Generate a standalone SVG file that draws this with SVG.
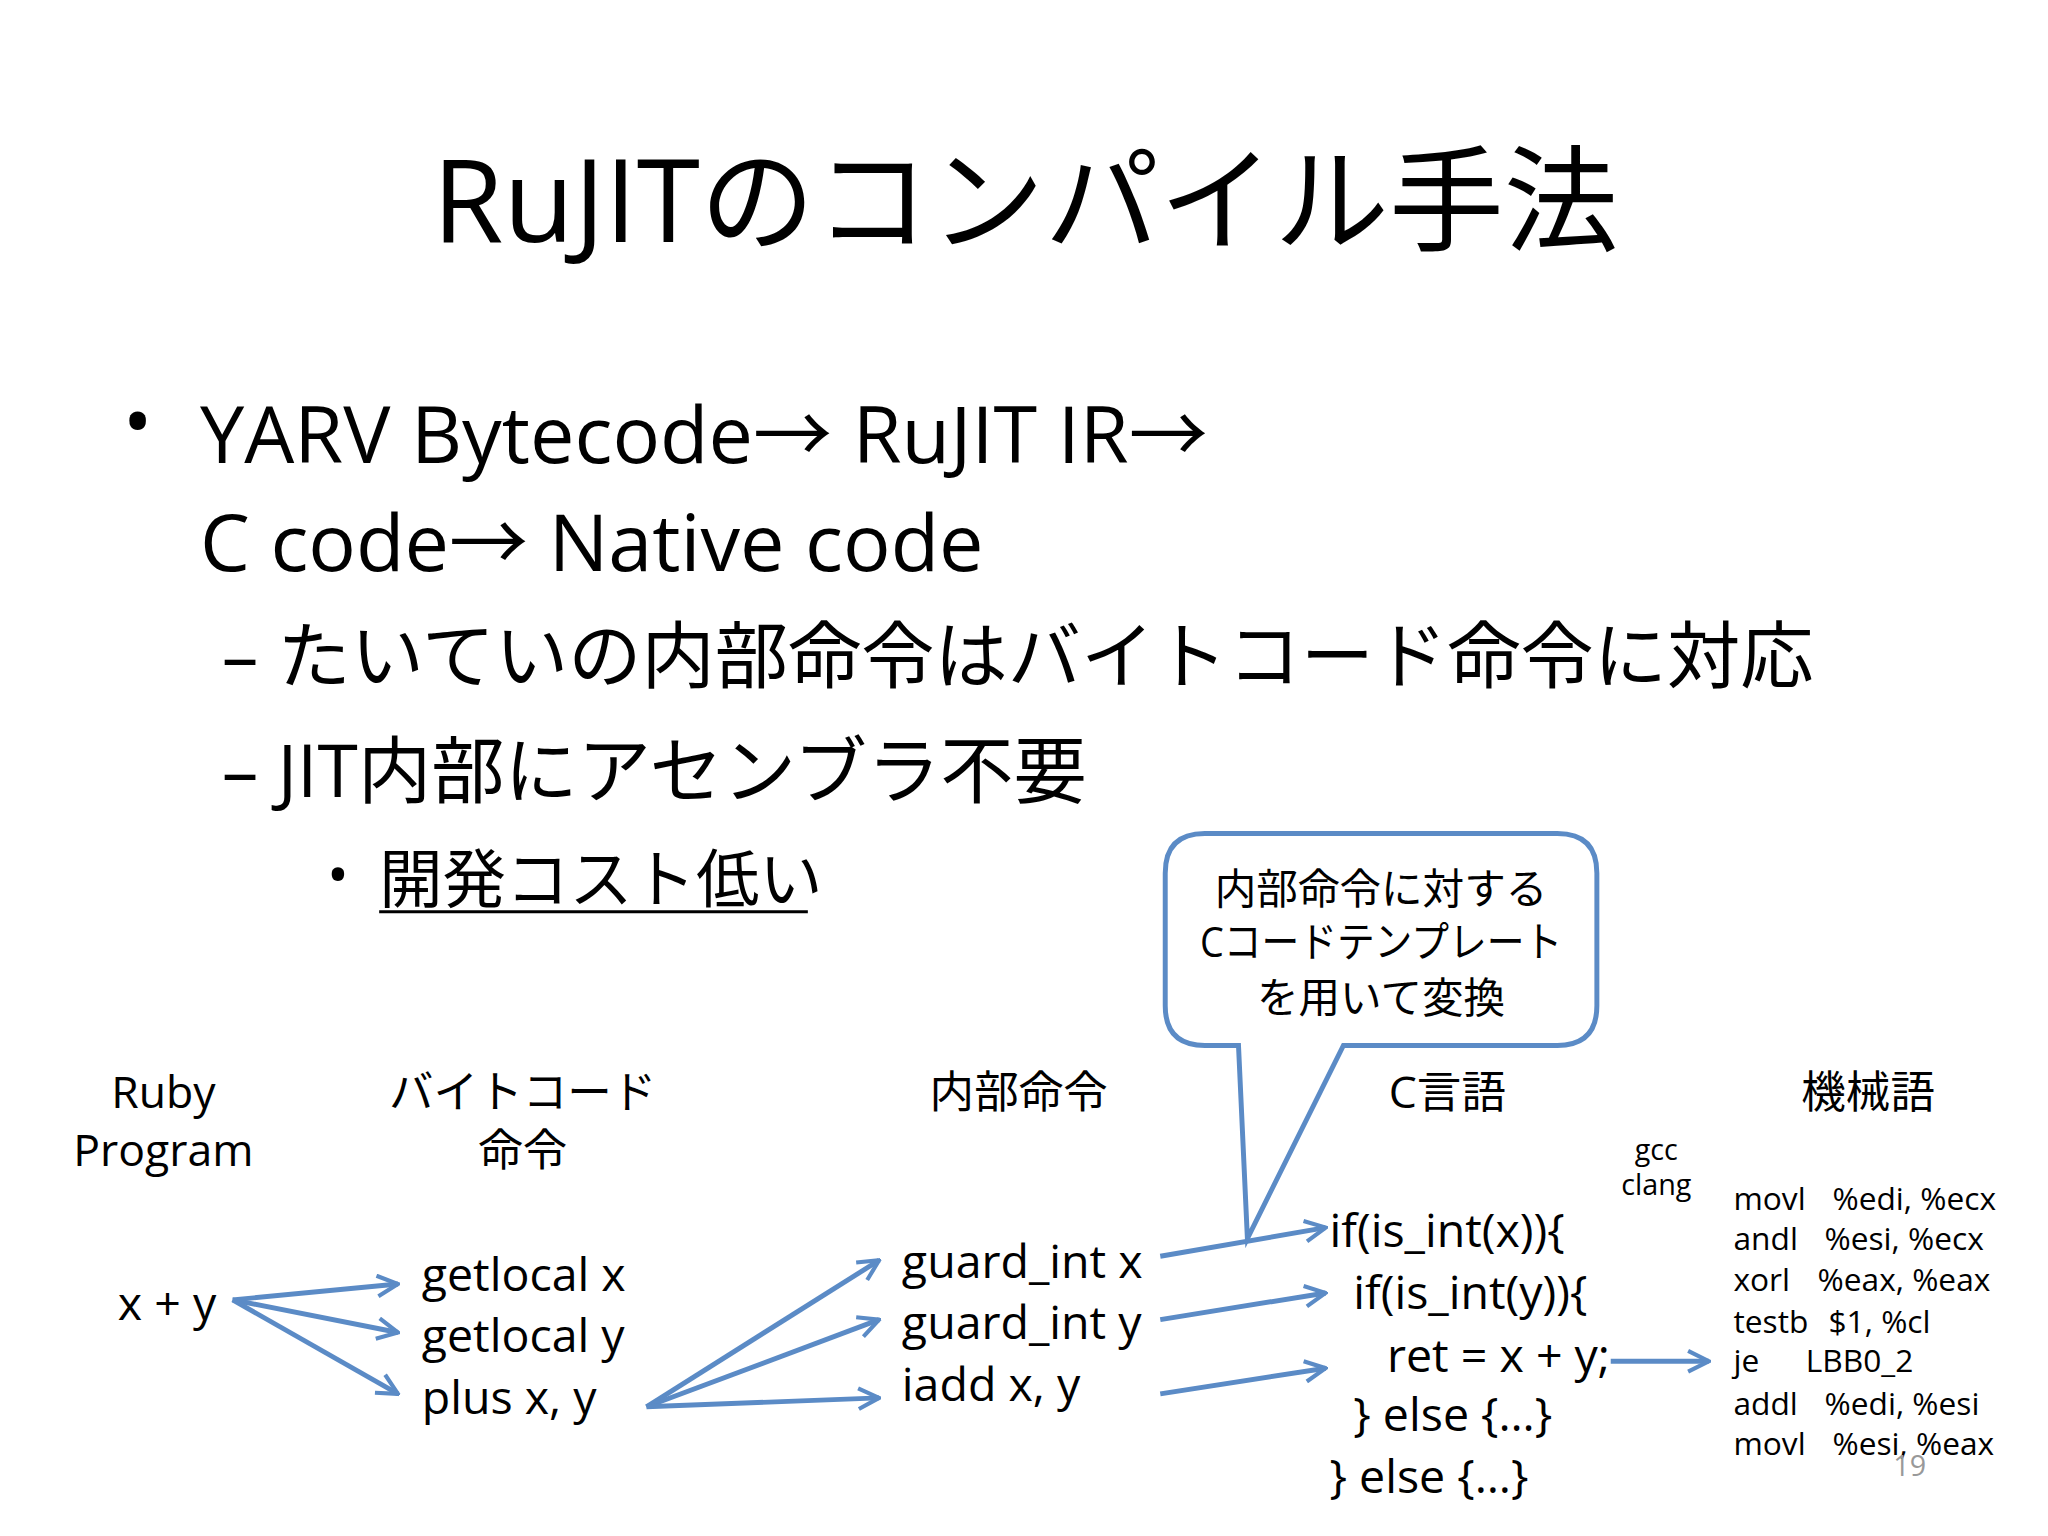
<svg xmlns="http://www.w3.org/2000/svg" width="2048" height="1536" viewBox="0 0 2048 1536">
<style>
text{font-family:"Open Sans","Noto Sans","Noto Sans CJK JP",sans-serif;fill:#000}
.t{font-size:116px}
.b{font-size:80px}
.s{font-size:74px}
.h{font-size:45px}
.k{font-size:42px}
.c{font-size:47px}
.m{font-size:32px}
.ar{stroke:#5b8bc6;stroke-width:5;fill:none;marker-end:url(#ah)}
</style>
<defs>
<marker id="ah" viewBox="0 0 12 12" refX="11" refY="6" markerWidth="5" markerHeight="5" orient="auto" markerUnits="strokeWidth">
<polyline points="1,1 11,6 1,11" fill="none" stroke="#5b8bc6" stroke-width="2"/>
</marker>
</defs>
<rect width="2048" height="1536" fill="#fff"/>
<g transform="scale(0.99)">
<g id="title"><text class="t" x="1036" y="244" text-anchor="middle">RuJITのコンパイル手法</text></g>
<g id="bullets">
<text class="b" x="124" y="455">•</text>
<text class="b" x="202" y="468">YARV Bytecode→ RuJIT IR→</text>
<text class="b" x="202" y="577">C code→ Native code</text>
<text class="s" x="224" y="689">– たいていの内部命令はバイトコード命令に対応</text>
<text class="s" x="224" y="805">– JIT内部にアセンブラ不要</text>
<text style="font-size:60px" x="330" y="905">•</text>
<text style="font-size:64px" x="383" y="911">開発コスト低い</text>
<line x1="383" y1="921" x2="816" y2="921" stroke="#000" stroke-width="3"/>
</g>
<g id="callout">
<path d="M1217,842 H1573 Q1613,842 1613,882 V1016 Q1613,1056 1573,1056 H1357 L1260,1251 L1251,1056 H1217 Q1177,1056 1177,1016 V882 Q1177,842 1217,842 Z" fill="#fff" stroke="#5b8bc6" stroke-width="5"/>
<text class="k" x="1395" y="913" text-anchor="middle">内部命令に対する</text>
<text class="k" x="1395" y="967" text-anchor="middle" textLength="366" lengthAdjust="spacingAndGlyphs">Cコードテンプレート</text>
<text class="k" x="1395" y="1023" text-anchor="middle">を用いて変換</text>
</g>
<g id="headers">
<text class="h" x="165" y="1119" text-anchor="middle">Ruby</text>
<text class="h" x="165" y="1178" text-anchor="middle">Program</text>
<text class="h" x="528" y="1119" text-anchor="middle">バイトコード</text>
<text class="h" x="528" y="1178" text-anchor="middle">命令</text>
<text class="h" x="1029" y="1119" text-anchor="middle">内部命令</text>
<text class="h" x="1462" y="1119" text-anchor="middle">C言語</text>
<text class="h" x="1887" y="1119" text-anchor="middle">機械語</text>
<text style="font-size:29px" x="1673" y="1172" text-anchor="middle">gcc</text>
<text style="font-size:29px" x="1673" y="1207" text-anchor="middle">clang</text>
</g>
<g id="ruby"><text class="c" x="119" y="1333">x + y</text></g>
<g id="bytecode">
<text class="c" x="426" y="1304">getlocal x</text>
<text class="c" x="426" y="1366">getlocal y</text>
<text class="c" x="426" y="1428">plus x, y</text>
</g>
<g id="ir">
<text class="c" x="911" y="1291">guard_int x</text>
<text class="c" x="911" y="1353">guard_int y</text>
<text class="c" x="911" y="1415">iadd x, y</text>
</g>
<g id="ccode">
<text class="c" x="1343" y="1260">if(is_int(x)){</text>
<text class="c" x="1367" y="1322">if(is_int(y)){</text>
<text class="c" x="1401" y="1386">ret = x + y;</text>
<text class="c" x="1367" y="1445">} else {…}</text>
<text class="c" x="1343" y="1508">} else {…}</text>
</g>
<g id="asm">
<text class="m" x="1751" y="1222">movl</text><text class="m" x="1851" y="1222">%edi, %ecx</text>
<text class="m" x="1751" y="1263">andl</text><text class="m" x="1843" y="1263">%esi, %ecx</text>
<text class="m" x="1751" y="1304">xorl</text><text class="m" x="1836" y="1304">%eax, %eax</text>
<text class="m" x="1751" y="1346">testb</text><text class="m" x="1847" y="1346">$1, %cl</text>
<text class="m" x="1751" y="1386">je</text><text class="m" x="1824" y="1386">LBB0_2</text>
<text class="m" x="1751" y="1429">addl</text><text class="m" x="1843" y="1429">%edi, %esi</text>
<text class="m" x="1751" y="1470">movl</text><text class="m" x="1851" y="1470">%esi, %eax</text>
</g>
<g id="connectors">
<line class="ar" x1="235" y1="1313" x2="402" y2="1297"/>
<line class="ar" x1="235" y1="1313" x2="402" y2="1346"/>
<line class="ar" x1="235" y1="1313" x2="402" y2="1408"/>
<line class="ar" x1="653" y1="1421" x2="888" y2="1273"/>
<line class="ar" x1="653" y1="1421" x2="888" y2="1333"/>
<line class="ar" x1="653" y1="1421" x2="888" y2="1412"/>
<line class="ar" x1="1172" y1="1269" x2="1339" y2="1240"/>
<line class="ar" x1="1172" y1="1333" x2="1339" y2="1306"/>
<line class="ar" x1="1172" y1="1408" x2="1339" y2="1382"/>
<line class="ar" x1="1627" y1="1375" x2="1726" y2="1375"/>
</g>
<text style="font-size:29px;fill:#999" x="1929" y="1491" text-anchor="middle">19</text>
</g>
</svg>
